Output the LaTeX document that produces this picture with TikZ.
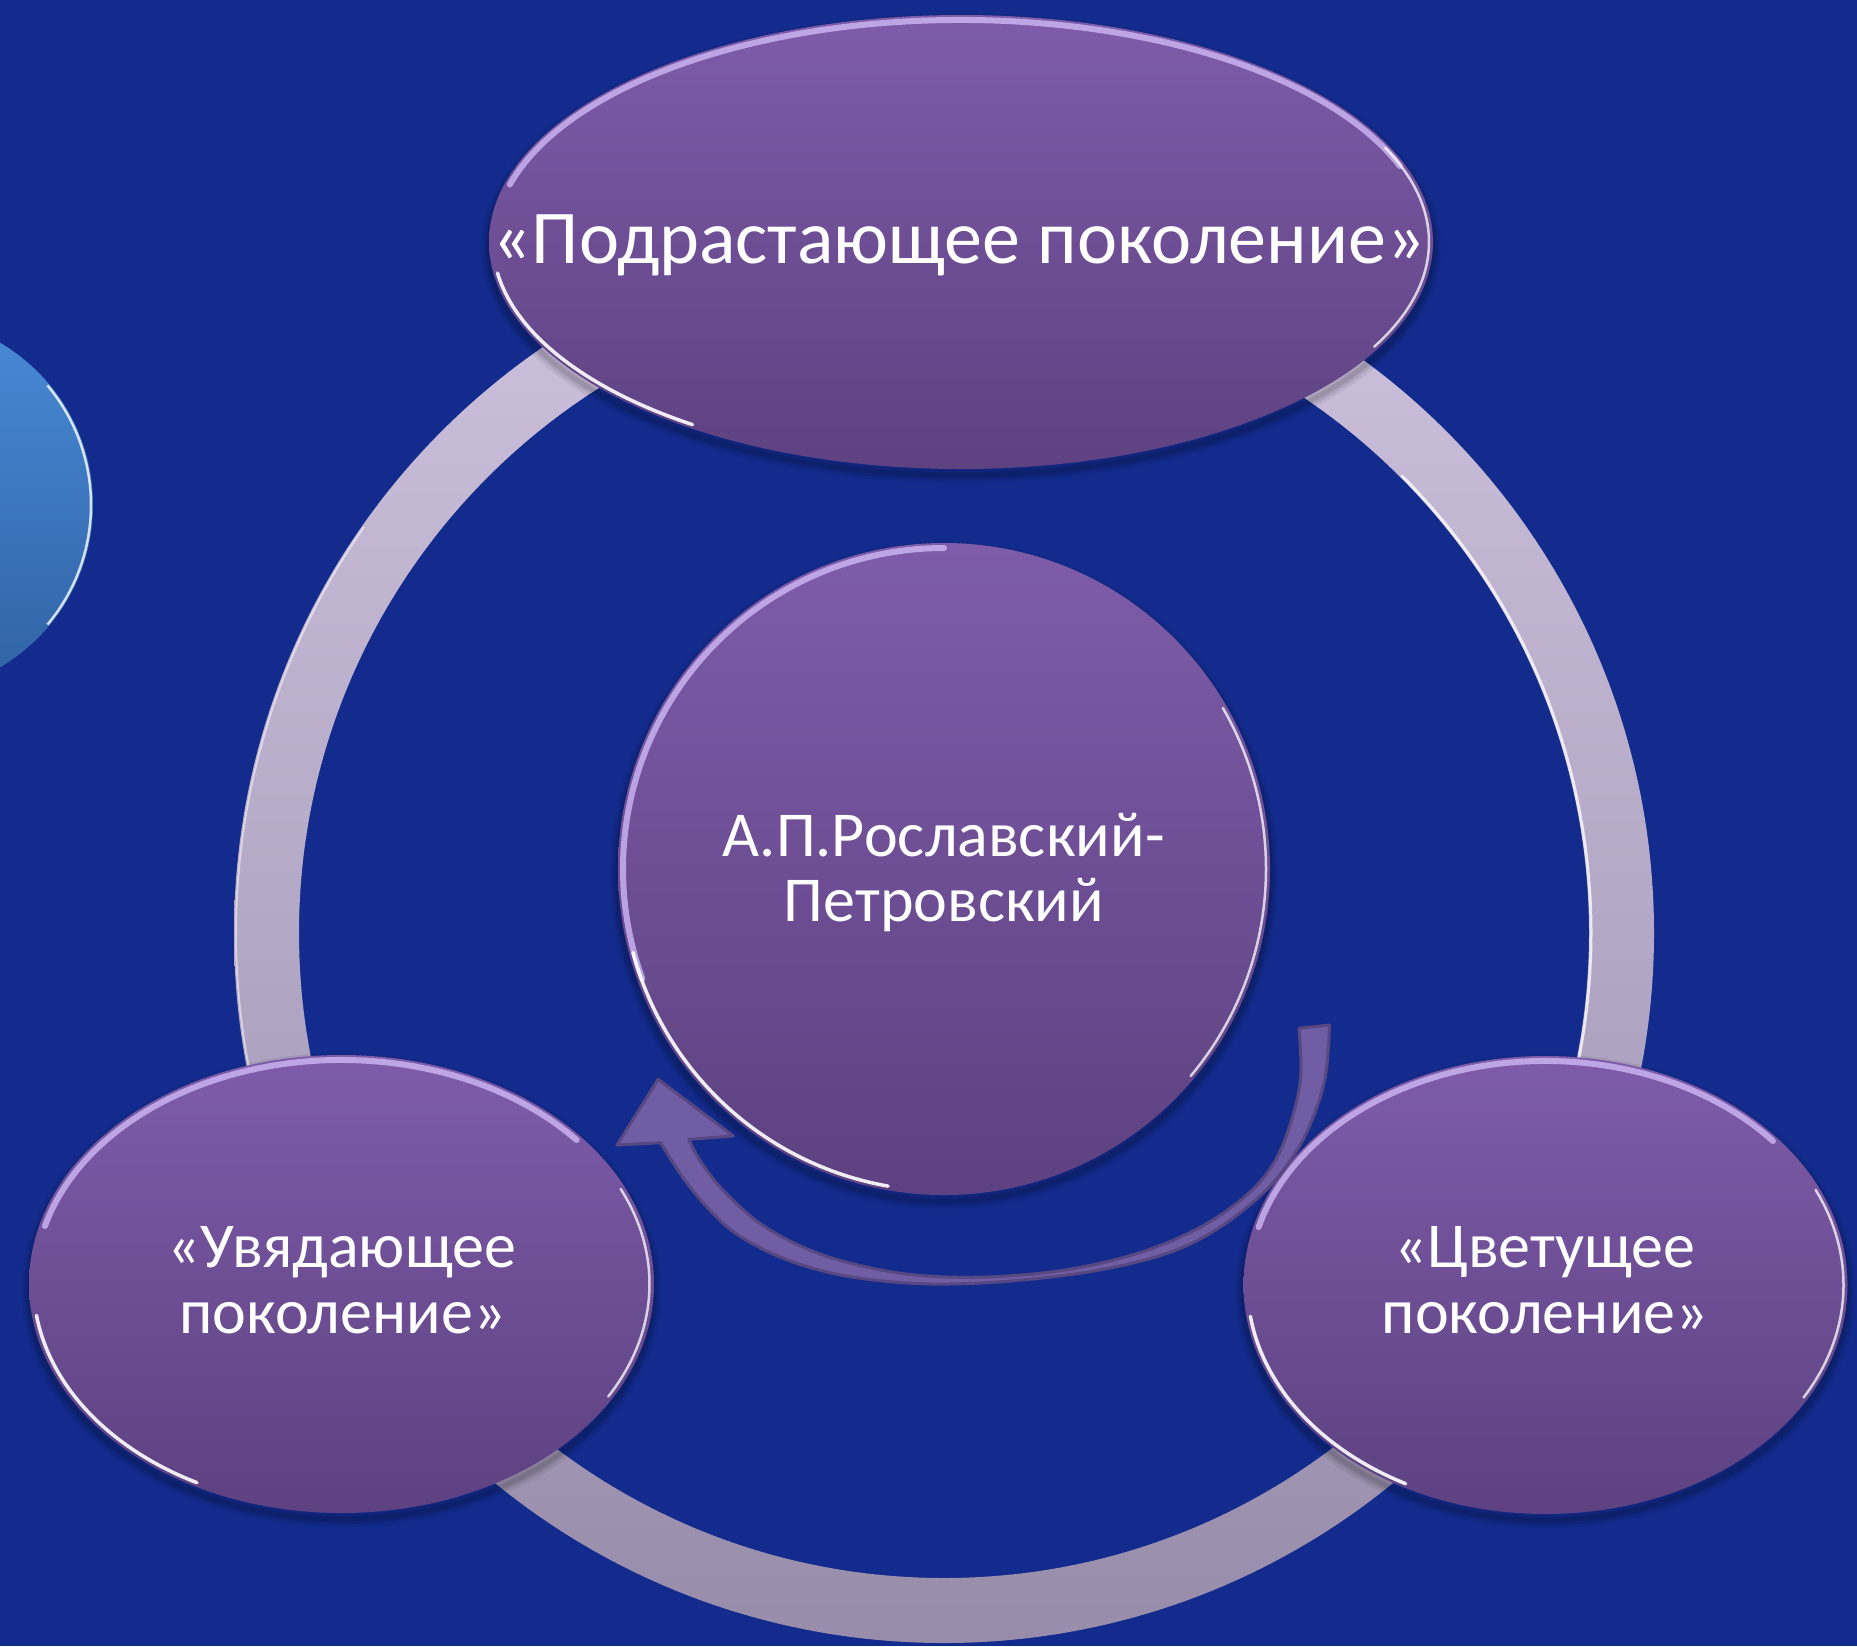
\documentclass[tikz,border=0pt]{standalone}
\usepackage{fontspec}
\setmainfont{Carlito}
\usetikzlibrary{shapes.geometric}
\definecolor{bg}{RGB}{19,43,141}
\definecolor{ptop}{RGB}{126,92,170}
\definecolor{pbot}{RGB}{93,65,128}
\definecolor{ringtop}{RGB}{206,194,222}
\definecolor{ringbot}{RGB}{151,141,171}
\definecolor{bluetop}{RGB}{72,138,214}
\definecolor{bluebot}{RGB}{48,98,164}
\definecolor{lav}{RGB}{206,184,246}
\definecolor{arrfill}{RGB}{122,98,166}
\definecolor{arrline}{RGB}{88,72,130}
\newcommand\glassrim[6]{\draw[#6] (#1) ++(#4:#2 and #3) arc[start angle=#4, end angle=#5, x radius=#2, y radius=#3];}
\newcommand\softshadow[3]{%
  \foreach \w/\o in {16/0.06,10/0.08,5/0.1}{\draw[black, opacity=\o, line width=\w pt] (#1) ++(0,6) ellipse[x radius=#2, y radius=#3];}}
\tikzset{
  glass/.style={ellipse, inner sep=0pt, top color=ptop, bottom color=pbot, draw=none},
  lbl/.style={text=white, font=\fontsize{64}{64}\selectfont, anchor=base, inner sep=0pt},
  toprim/.style={lav, line width=6pt, line cap=round, opacity=0.8},
  whiterim/.style={white, line width=3.5pt, line cap=round, opacity=0.9},
  siderim/.style={white, line width=2.5pt, line cap=round, opacity=0.75},
  arrowsty/.style={fill=arrfill, fill opacity=0.92, draw=arrline, line width=3pt, line join=round}
}
\begin{document}
\begin{tikzpicture}[x=1pt,y=-1pt]
\useasboundingbox (0,0) rectangle (1857,1646);
\fill[bg] (0,0) rectangle (1857,1646);

% partial blue disc at left
\node[circle, inner sep=0pt, minimum size=376pt, top color=bluetop, bottom color=bluebot] (blue) at (-95,505) {};
\glassrim{blue}{186}{186}{-40}{40}{white, line width=2.5pt, opacity=0.8}

% ring
\coordinate (rc) at (944,933);
\shade[top color=ringtop, bottom color=ringbot, even odd rule] (rc) circle[radius=710] (rc) circle[radius=645];
\glassrim{rc}{647}{647}{-45}{35}{white, line width=3pt, opacity=0.75}
\glassrim{rc}{708}{708}{145}{215}{white, line width=2pt, opacity=0.5}

% shadows
\coordinate (ctop) at (961,242);
\coordinate (cmid) at (944,869);
\coordinate (cwl) at (341.5,1284);
\coordinate (cwr) at (1545.5,1285);
\softshadow{ctop}{472}{227}
\softshadow{cmid}{326}{326}
\softshadow{cwl}{312}{229}
\softshadow{cwr}{302}{229}

% shapes
\node[glass, minimum width=944pt, minimum height=454pt] (top) at (ctop) {};
\node[glass, circle, minimum size=652pt] (mid) at (cmid) {};
\node[glass, minimum width=625pt, minimum height=458pt] (wl) at (cwl) {};
\node[glass, minimum width=604pt, minimum height=458pt] (wr) at (cwr) {};

% glass rims
\glassrim{ctop}{467}{222}{-165}{-20}{toprim}
\glassrim{ctop}{468}{223}{172}{125}{whiterim}
\glassrim{ctop}{468}{223}{-25}{28}{siderim}
\glassrim{cmid}{321}{321}{-200}{-90}{toprim}
\glassrim{cmid}{322}{322}{165}{100}{whiterim}
\glassrim{cmid}{322}{322}{-30}{40}{siderim}
\glassrim{cwl}{307}{224}{-165}{-40}{toprim}
\glassrim{cwl}{308}{225}{172}{118}{whiterim}
\glassrim{cwl}{308}{225}{-25}{30}{siderim}
\glassrim{cwr}{297}{224}{-165}{-40}{toprim}
\glassrim{cwr}{298}{225}{172}{118}{whiterim}
\glassrim{cwr}{298}{225}{-25}{30}{siderim}

% curved arrow
\draw[arrowsty] plot[smooth, tension=0.6] coordinates {(1329.5,1025) (1324.7,1080) (1307.7,1130) (1285.9,1166.7) (1259.2,1196.7) (1215.6,1230) (1167.1,1253.3) (1099.3,1270) (1021.7,1280) (949,1284) (890.8,1281.7) (832.7,1273.3) (779.4,1256.7) (735.7,1233.3) (706.6,1206.7) (682.4,1176.7) (660.6,1142.7)}
  -- (617,1145) -- (658.2,1079.3) -- (733.3,1136) --
  plot[smooth, tension=0.6] coordinates {(688.7,1139.3) (701.8,1163.3) (726,1193.3) (764.8,1226.7) (818.1,1253.3) (881.1,1270) (939.3,1276.7) (1007.2,1276) (1075,1268.3) (1142.9,1251.7) (1201.1,1226.7) (1244.7,1196.7) (1271.4,1166.7) (1288.3,1130) (1300.4,1080) (1299,1028.3)} -- cycle;

% texts
\node[lbl, font=\fontsize{76}{76}\selectfont] (ttop) at (959,263) {«Подрастающее поколение»};
\node[lbl] (tmid1) at (943.5,856) {А.П.Рославский-};
\node[lbl] (tmid2) at (944,921) {Петровский};
\node[lbl] (twl1) at (342,1267) {«Увядающее};
\node[lbl] (twl2) at (342.5,1333) {поколение»};
\node[lbl] (twr1) at (1545,1267) {«Цветущее};
\node[lbl] (twr2) at (1545,1333) {поколение»};
\end{tikzpicture}
\end{document}
